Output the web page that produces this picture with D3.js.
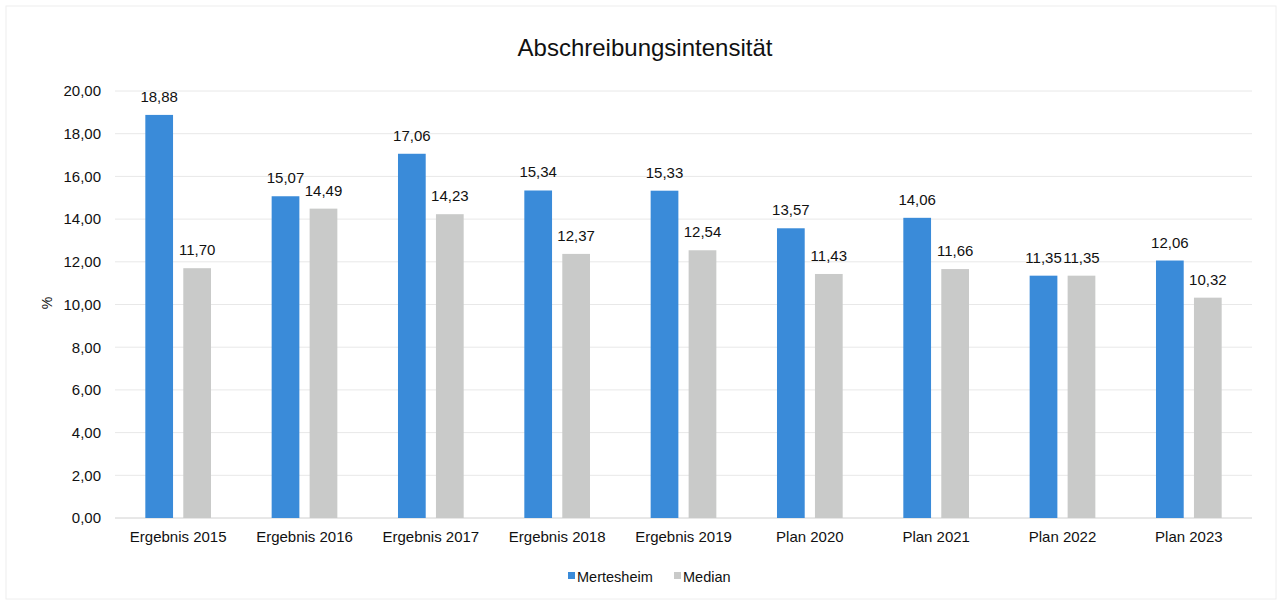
<!DOCTYPE html>
<html>
<head>
<meta charset="utf-8">
<script src="https://cdn.jsdelivr.net/npm/d3@7"></script>
<style>
  body { margin: 0; background: #fff; }
  text { font-family: "Liberation Sans", Arial, sans-serif; fill: #111; }
</style>
</head>
<body>
<svg id="chart"></svg>
<script>
var categories = ['Ergebnis 2015', 'Ergebnis 2016', 'Ergebnis 2017', 'Ergebnis 2018', 'Ergebnis 2019',
                  'Plan 2020', 'Plan 2021', 'Plan 2022', 'Plan 2023'];
var seriesNames = ['Mertesheim', 'Median'];
var mertesheim = [18.88, 15.07, 17.06, 15.34, 15.33, 13.57, 14.06, 11.35, 12.06];
var median = [11.70, 14.49, 14.23, 12.37, 12.54, 11.43, 11.66, 11.35, 10.32];
var yTicks = [0, 2, 4, 6, 8, 10, 12, 14, 16, 18, 20];
var colors = ['#3a8bd9', '#c9cac9'];

var width = 1282, height = 605;
var margin = {top: 91, right: 30, bottom: 87, left: 115};
var innerW = width - margin.left - margin.right;
var innerH = height - margin.top - margin.bottom;

var fmt = v => d3.format('.2f')(v).replace('.', ',');

var svg = d3.select('#chart').attr('width', width).attr('height', height);

// faint frame
svg.append('rect')
  .attr('x', 6).attr('y', 6).attr('width', width - 12).attr('height', height - 12)
  .attr('fill', 'none').attr('stroke', '#eeeeee');

svg.append('text')
  .attr('x', 645).attr('y', 56)
  .attr('text-anchor', 'middle')
  .style('font-size', '24px')
  .text('Abschreibungsintensität');

var chart = svg.append('g').attr('transform', `translate(${margin.left}, ${margin.top})`);

var yscale = d3.scaleLinear().domain([0, 20]).range([innerH, 0]);
var x0 = d3.scaleBand().domain(categories).range([0, innerW]).paddingInner(0.48).paddingOuter(0.24);
var x1 = d3.scaleBand().domain(seriesNames).range([0, x0.bandwidth()]).paddingInner(0.27);

// gridlines
chart.append('g')
  .selectAll('line')
  .data(yTicks)
  .join('line')
  .attr('x1', 0).attr('x2', innerW)
  .attr('y1', d => yscale(d)).attr('y2', d => yscale(d))
  .attr('stroke', d => d === 0 ? '#d0d0d0' : '#e8e8e8')
  .attr('stroke-width', 1);

// y axis labels
var yaxis = d3.axisLeft(yscale).tickValues(yTicks).tickFormat(fmt).tickSize(0).tickPadding(14);
var yg = chart.append('g').call(yaxis);
yg.select('.domain').remove();
yg.selectAll('text').style('font-size', '15px').attr('fill', '#111');

svg.append('text')
  .attr('transform', 'translate(52, 303) rotate(-90)')
  .attr('text-anchor', 'middle')
  .style('font-size', '14px')
  .text('%');

// x axis labels
var xaxis = d3.axisBottom(x0).tickSize(0).tickPadding(13);
var xg = chart.append('g').attr('transform', `translate(0, ${innerH})`).call(xaxis);
xg.select('.domain').remove();
xg.selectAll('text').style('font-size', '15px').attr('fill', '#111');

var rows = categories.map((c, i) => ({cat: c, values: [mertesheim[i], median[i]]}));

var groups = chart.selectAll('g.cat')
  .data(rows)
  .join('g')
  .attr('class', 'cat')
  .attr('transform', d => `translate(${x0(d.cat)}, 0)`);

groups.selectAll('rect')
  .data(d => d.values.map((v, j) => ({name: seriesNames[j], value: v, j: j})))
  .join('rect')
  .attr('x', d => x1(d.name))
  .attr('y', d => yscale(d.value))
  .attr('width', x1.bandwidth())
  .attr('height', d => innerH - yscale(d.value))
  .attr('fill', d => colors[d.j]);

groups.selectAll('text.val')
  .data(d => d.values.map((v, j) => ({name: seriesNames[j], value: v, j: j})))
  .join('text')
  .attr('class', 'val')
  .attr('x', d => x1(d.name) + x1.bandwidth() / 2)
  .attr('y', d => yscale(d.value) - 13)
  .attr('text-anchor', 'middle')
  .style('font-size', '15px')
  .text(d => fmt(d.value));

// legend
var legend = svg.append('g').attr('transform', 'translate(568, 577)');
var items = legend.selectAll('g')
  .data(seriesNames)
  .join('g')
  .attr('transform', (d, i) => `translate(${i * 106}, 0)`);
items.append('rect')
  .attr('x', 0).attr('y', -5).attr('width', 7).attr('height', 7)
  .attr('fill', (d, i) => colors[i]);
items.append('text')
  .attr('x', 9).attr('y', 0).attr('dy', '0.35em')
  .style('font-size', '14.5px')
  .text(d => d);
</script>
</body>
</html>
